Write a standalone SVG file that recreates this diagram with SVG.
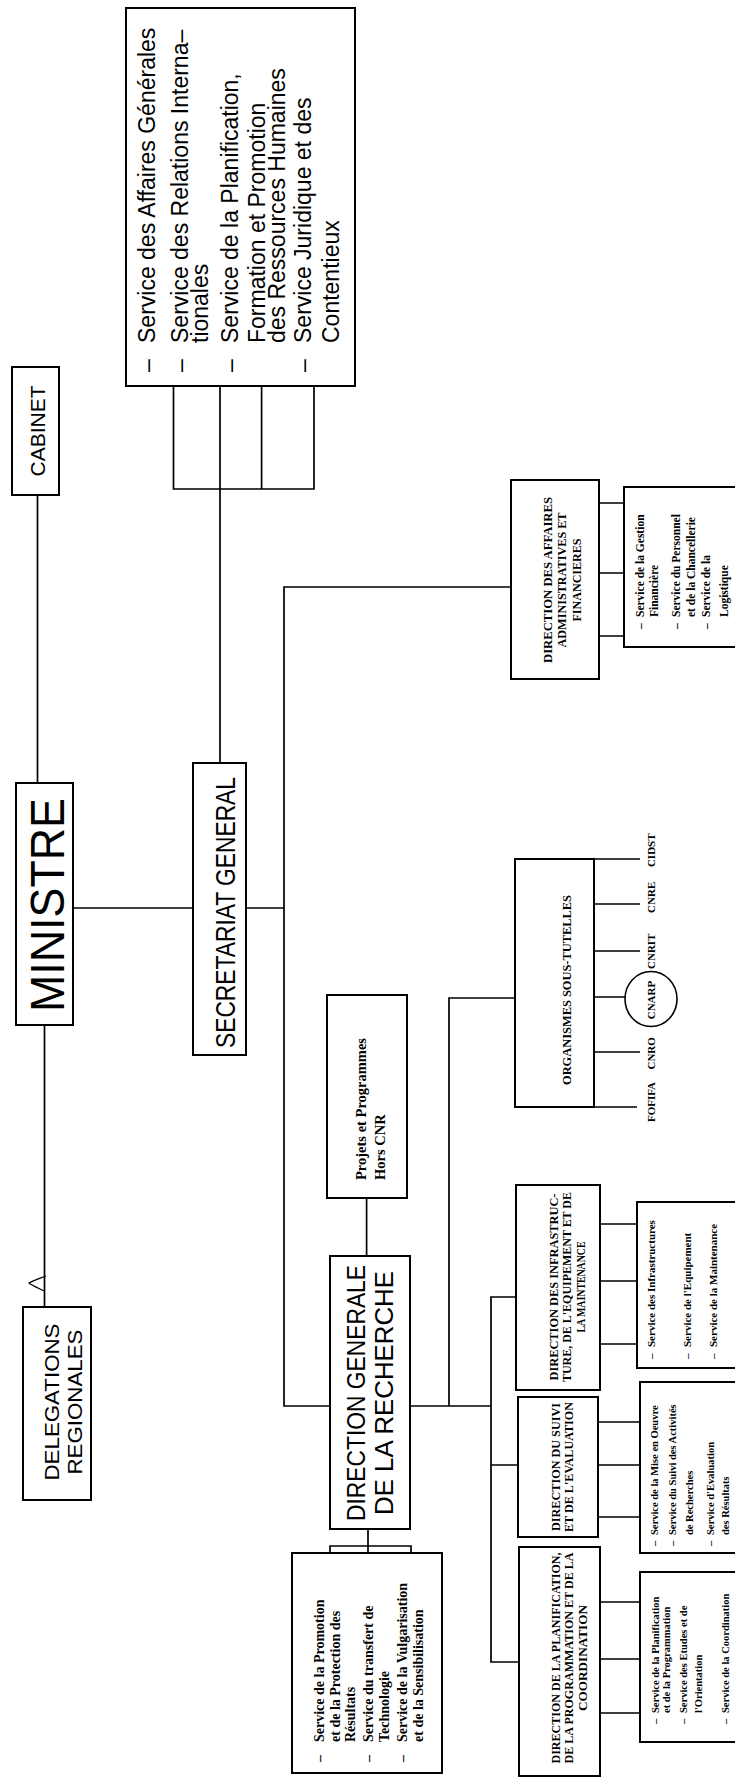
<svg xmlns="http://www.w3.org/2000/svg" width="735" height="1779" viewBox="0 0 735 1779">
<style>
.box{fill:#fff;stroke:#000;stroke-width:2}
.ln{fill:none;stroke:#000;stroke-width:1.7}
.sans{font-family:"Liberation Sans",Arial,sans-serif;fill:#000}
.serif{font-family:"Liberation Serif","Times New Roman",serif;font-weight:bold;fill:#000}
</style>
<rect x="0" y="0" width="735" height="1779" fill="#fff"/>
<g id="connectors" class="ln">
<path d="M173.5 386V489H314V386M220 386V763M261.6 386V489"/>
<path d="M37.5 495V783"/>
<path d="M44.5 1025V1307"/>
<path d="M73 908H193"/>
<path d="M246 908H284"/>
<path d="M511 587H284V1406H330"/>
<path d="M599 503H624M599 573H624M599 636H624"/>
<path d="M366.6 1198V1256"/>
<path d="M410 1406H491"/>
<path d="M449 1406V998H515"/>
<path d="M516 1297H491V1662H519M491 1465H518"/>
<path d="M600 1224H637M600 1281H637M600 1344H637"/>
<path d="M598 1422H640M598 1465H640M598 1517H640"/>
<path d="M600 1602H640M600 1659H640M600 1713H640"/>
<path d="M594 859H640M594 1107H637M594 904H640M594 951H640M594 997H625M594 1052H640"/>
<path d="M368 1529V1553M330 1553V1546H411V1553"/>
<path d="M46 1276C38 1279 32 1281 29 1283C33 1286 38 1288 44 1291" stroke-width="1.2"/>
</g>
<g id="services-sg">
<rect class="box" x="126" y="8" width="229" height="378"/>
<text class="sans" font-size="23" transform="rotate(-90)">
<tspan x="-372" y="155">–</tspan><tspan x="-343" y="155">Service des Affaires Générales</tspan>
<tspan x="-372" y="188">–</tspan><tspan x="-343" y="188">Service des Relations Interna–</tspan>
<tspan x="-343" y="208">tionales</tspan>
<tspan x="-372" y="238">–</tspan><tspan x="-343" y="238">Service de la Planification,</tspan>
<tspan x="-343" y="265">Formation et Promotion</tspan>
<tspan x="-343" y="285">des Ressources Humaines</tspan>
<tspan x="-372" y="311">–</tspan><tspan x="-343" y="311">Service Juridique et des</tspan>
<tspan x="-343" y="339">Contentieux</tspan>
</text>
</g>
<g id="cabinet">
<rect class="box" x="12" y="367" width="47" height="128"/>
<text class="sans" font-size="21" text-anchor="middle" transform="rotate(-90)" x="-431" y="44.5">CABINET</text>
</g>
<g id="ministre">
<rect class="box" x="16" y="783" width="57" height="242"/>
<text class="sans" font-size="48" transform="rotate(-90)" x="-1012" y="64" textLength="214" lengthAdjust="spacingAndGlyphs">MINISTRE</text>
</g>
<g id="secretariat">
<rect class="box" x="193" y="763" width="53" height="292"/>
<text class="sans" font-size="27" transform="rotate(-90)" x="-1048" y="235" textLength="271" lengthAdjust="spacingAndGlyphs">SECRETARIAT GENERAL</text>
</g>
<g id="delegations">
<rect class="box" x="23" y="1307" width="68" height="193"/>
<text class="sans" font-size="21" text-anchor="middle" transform="rotate(-90)" x="-1402" y="59" textLength="157" lengthAdjust="spacingAndGlyphs">DELEGATIONS</text>
<text class="sans" font-size="21" text-anchor="middle" transform="rotate(-90)" x="-1402" y="81.5" textLength="145" lengthAdjust="spacingAndGlyphs">REGIONALES</text>
</g>
<g id="projets">
<rect class="box" x="327" y="995" width="80" height="203"/>
<text class="serif" font-size="14.5" transform="rotate(-90)">
<tspan x="-1180" y="366">Projets et Programmes</tspan>
<tspan x="-1180" y="385">Hors CNR</tspan>
</text>
</g>
<g id="dgr">
<rect class="box" x="330" y="1256" width="80" height="273"/>
<text class="sans" font-size="25" text-anchor="middle" transform="rotate(-90)" x="-1393" y="365" textLength="256" lengthAdjust="spacingAndGlyphs">DIRECTION GENERALE</text>
<text class="sans" font-size="25" text-anchor="middle" transform="rotate(-90)" x="-1393" y="393" textLength="244" lengthAdjust="spacingAndGlyphs">DE LA RECHERCHE</text>
</g>
<g id="dgr-services">
<rect class="box" x="292" y="1553" width="150" height="220"/>
<text class="serif" font-size="14" transform="rotate(-90)">
<tspan x="-1762" y="324">–</tspan><tspan x="-1742" y="324">Service de la Promotion</tspan>
<tspan x="-1742" y="340">et de la Protection des</tspan>
<tspan x="-1742" y="355">Résultats</tspan>
<tspan x="-1762" y="373">–</tspan><tspan x="-1742" y="373">Service du transfert de</tspan>
<tspan x="-1742" y="389">Technologie</tspan>
<tspan x="-1762" y="407">–</tspan><tspan x="-1742" y="407">Service de la Vulgarisation</tspan>
<tspan x="-1742" y="423">et de la Sensibilisation</tspan>
</text>
</g>
<g id="organismes">
<rect class="box" x="515" y="859" width="79" height="248"/>
<text class="serif" font-size="12" text-anchor="middle" transform="rotate(-90)" x="-990" y="571" textLength="190" lengthAdjust="spacingAndGlyphs">ORGANISMES SOUS-TUTELLES</text>
<text class="serif" font-size="11" text-anchor="middle" transform="rotate(-90)">
<tspan x="-849" y="655">CIDST</tspan>
<tspan x="-896" y="655">CNRE</tspan>
<tspan x="-950" y="655">CNRIT</tspan>
<tspan x="-999" y="655">CNARP</tspan>
<tspan x="-1052" y="655">CNRO</tspan>
<tspan x="-1102" y="655">FOFIFA</tspan>
</text>
<ellipse cx="651" cy="999" rx="26" ry="27.5" fill="none" stroke="#000" stroke-width="1.6"/>
</g>
<g id="daaf">
<rect class="box" x="511" y="480" width="88" height="199"/>
<text class="serif" font-size="12" text-anchor="middle" transform="rotate(-90)" x="-580" y="552" textLength="166" lengthAdjust="spacingAndGlyphs">DIRECTION DES AFFAIRES</text>
<text class="serif" font-size="12" text-anchor="middle" transform="rotate(-90)" x="-580" y="566" textLength="135" lengthAdjust="spacingAndGlyphs">ADMINISTRATIVES ET</text>
<text class="serif" font-size="12" text-anchor="middle" transform="rotate(-90)" x="-580" y="580.5" textLength="83" lengthAdjust="spacingAndGlyphs">FINANCIERES</text>
</g>
<g id="daaf-services">
<rect class="box" x="624" y="487" width="120" height="160"/>
<text class="serif" font-size="11.5" transform="rotate(-90)">
<tspan x="-629" y="643.5">–</tspan><tspan x="-617" y="643.5">Service de la Gestion</tspan>
<tspan x="-617" y="658">Financière</tspan>
<tspan x="-629" y="680">–</tspan><tspan x="-617" y="680">Service du Personnel</tspan>
<tspan x="-617" y="694.5">et de la Chancellerie</tspan>
<tspan x="-629" y="710">–</tspan><tspan x="-617" y="710">Service de la</tspan>
<tspan x="-617" y="727.5">Logistique</tspan>
</text>
</g>
<g id="dis">
<rect class="box" x="516" y="1185" width="84" height="205"/>
<text class="serif" font-size="11.5" text-anchor="middle" transform="rotate(-90)" x="-1287" y="558" textLength="187" lengthAdjust="spacingAndGlyphs">DIRECTION DES INFRASTRUC-</text>
<text class="serif" font-size="11.5" text-anchor="middle" transform="rotate(-90)" x="-1287" y="571" textLength="190" lengthAdjust="spacingAndGlyphs">TURE, DE L'EQUIPEMENT ET DE</text>
<text class="serif" font-size="11.5" text-anchor="middle" transform="rotate(-90)" x="-1287" y="584.5" textLength="91" lengthAdjust="spacingAndGlyphs">LA MAINTENANCE</text>
</g>
<g id="dis-services">
<rect class="box" x="637" y="1202" width="110" height="166"/>
<text class="serif" font-size="11" transform="rotate(-90)">
<tspan x="-1359" y="655">–</tspan><tspan x="-1347" y="655">Service des Infrastructures</tspan>
<tspan x="-1359" y="690.5">–</tspan><tspan x="-1347" y="690.5">Service de l'Equipement</tspan>
<tspan x="-1359" y="716.5">–</tspan><tspan x="-1347" y="716.5">Service de la Maintenance</tspan>
</text>
</g>
<g id="dse">
<rect class="box" x="518" y="1397" width="80" height="140"/>
<text class="serif" font-size="11.5" text-anchor="middle" transform="rotate(-90)" x="-1467" y="560" textLength="128" lengthAdjust="spacingAndGlyphs">DIRECTION DU SUIVI</text>
<text class="serif" font-size="11.5" text-anchor="middle" transform="rotate(-90)" x="-1467" y="573" textLength="130" lengthAdjust="spacingAndGlyphs">ET DE L'EVALUATION</text>
</g>
<g id="dse-services">
<rect class="box" x="640" y="1382" width="110" height="171"/>
<text class="serif" font-size="10.5" transform="rotate(-90)">
<tspan x="-1546" y="658">–</tspan><tspan x="-1535" y="658">Service de la Mise en Oeuvre</tspan>
<tspan x="-1546" y="676">–</tspan><tspan x="-1535" y="676">Service du Suivi des Activités</tspan>
<tspan x="-1535" y="692.5">de Recherches</tspan>
<tspan x="-1546" y="713.5">–</tspan><tspan x="-1535" y="713.5">Service d'Evaluation</tspan>
<tspan x="-1535" y="729">des Résultats</tspan>
</text>
</g>
<g id="dppc">
<rect class="box" x="519" y="1547" width="81" height="229"/>
<text class="serif" font-size="12" text-anchor="middle" transform="rotate(-90)" x="-1658" y="560" textLength="211" lengthAdjust="spacingAndGlyphs">DIRECTION DE LA PLANIFICATION,</text>
<text class="serif" font-size="12" text-anchor="middle" transform="rotate(-90)" x="-1658" y="573" textLength="211" lengthAdjust="spacingAndGlyphs">DE LA PROGRAMMATION ET DE LA</text>
<text class="serif" font-size="12" text-anchor="middle" transform="rotate(-90)" x="-1658" y="586.5" textLength="106" lengthAdjust="spacingAndGlyphs">COORDINATION</text>
</g>
<g id="dppc-services">
<rect class="box" x="640" y="1572" width="110" height="170"/>
<text class="serif" font-size="10.5" transform="rotate(-90)">
<tspan x="-1724" y="658.5">–</tspan><tspan x="-1713" y="658.5">Service de la Planification</tspan>
<tspan x="-1713" y="670">et de la Programmation</tspan>
<tspan x="-1724" y="686.5">–</tspan><tspan x="-1713" y="686.5">Service des Etudes et de</tspan>
<tspan x="-1713" y="701.5">l'Orientation</tspan>
<tspan x="-1724" y="728.5">–</tspan><tspan x="-1713" y="728.5">Service de la Coordination</tspan>
</text>
</g>
</svg>
